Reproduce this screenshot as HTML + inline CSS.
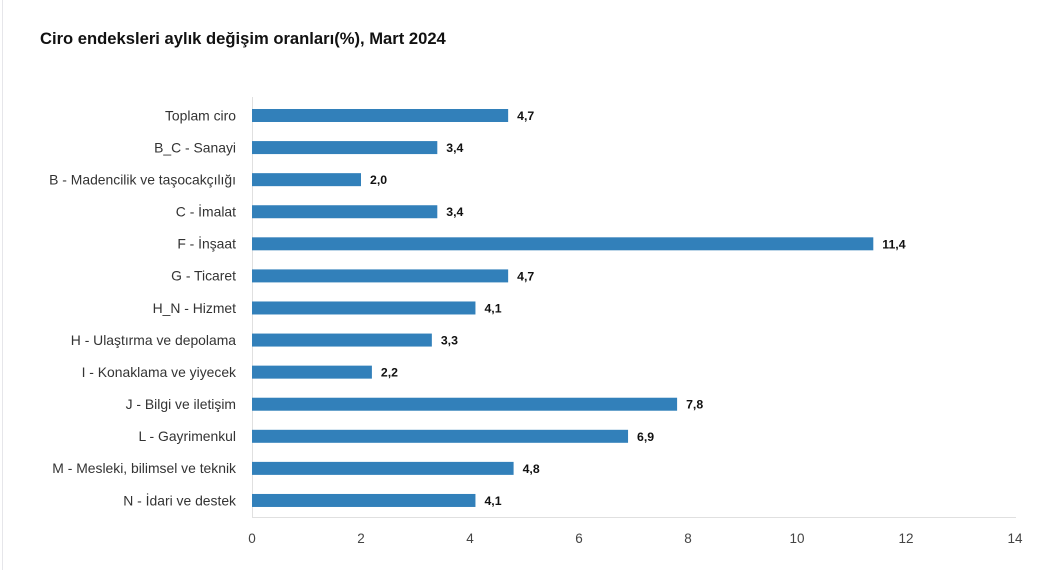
<!DOCTYPE html>
<html><head><meta charset="utf-8"><style>
html,body{margin:0;padding:0;background:#fff;}
svg{display:block;font-family:"Liberation Sans","DejaVu Sans",sans-serif;}
</style></head><body>
<svg width="1058" height="570" viewBox="0 0 1058 570">
<line x1="2.5" y1="0" x2="2.5" y2="570" stroke="#e6e6ea" stroke-width="1"/>
<text x="40" y="44" font-size="16.6" font-weight="bold" fill="#111">Ciro endeksleri aylık değişim oranları(%), Mart 2024</text>
<line x1="252.5" y1="97" x2="252.5" y2="517" stroke="#e0e0e0"/>
<line x1="252" y1="517.5" x2="1016" y2="517.5" stroke="#e0e0e0"/>
<g font-size="13.5" fill="#444" text-anchor="middle">
<text x="252" y="543">0</text><text x="361" y="543">2</text><text x="470" y="543">4</text><text x="579" y="543">6</text><text x="688" y="543">8</text><text x="797" y="543">10</text><text x="906" y="543">12</text><text x="1015" y="543">14</text>
</g>
<g id="bars"></g>
</svg>
<script>
var d=[["Toplam ciro",4.7],["B_C - Sanayi",3.4],["B - Madencilik ve taşocakçılığı",2.0],["C - İmalat",3.4],["F - İnşaat",11.4],["G - Ticaret",4.7],["H_N - Hizmet",4.1],["H - Ulaştırma ve depolama",3.3],["I - Konaklama ve yiyecek",2.2],["J - Bilgi ve iletişim",7.8],["L - Gayrimenkul",6.9],["M - Mesleki, bilimsel ve teknik",4.8],["N - İdari ve destek",4.1]];
var g=document.getElementById("bars"),s="",k=54.5;
d.forEach(function(r,i){var cy=115.5+i*32.08,w=r[1]*k;
s+='<text x="236" y="'+(cy+4.8)+'" font-size="13.9" fill="#333" text-anchor="end">'+r[0]+'</text>';
s+='<rect x="252" y="'+(cy-6.5)+'" width="'+w+'" height="13" fill="#3280ba"/>';
s+='<text x="'+(252+w+9)+'" y="'+(cy+4.5)+'" font-size="12.3" font-weight="bold" fill="#111">'+r[1].toFixed(1).replace(".",",")+'</text>';});
g.innerHTML=s;
</script>
</body></html>
